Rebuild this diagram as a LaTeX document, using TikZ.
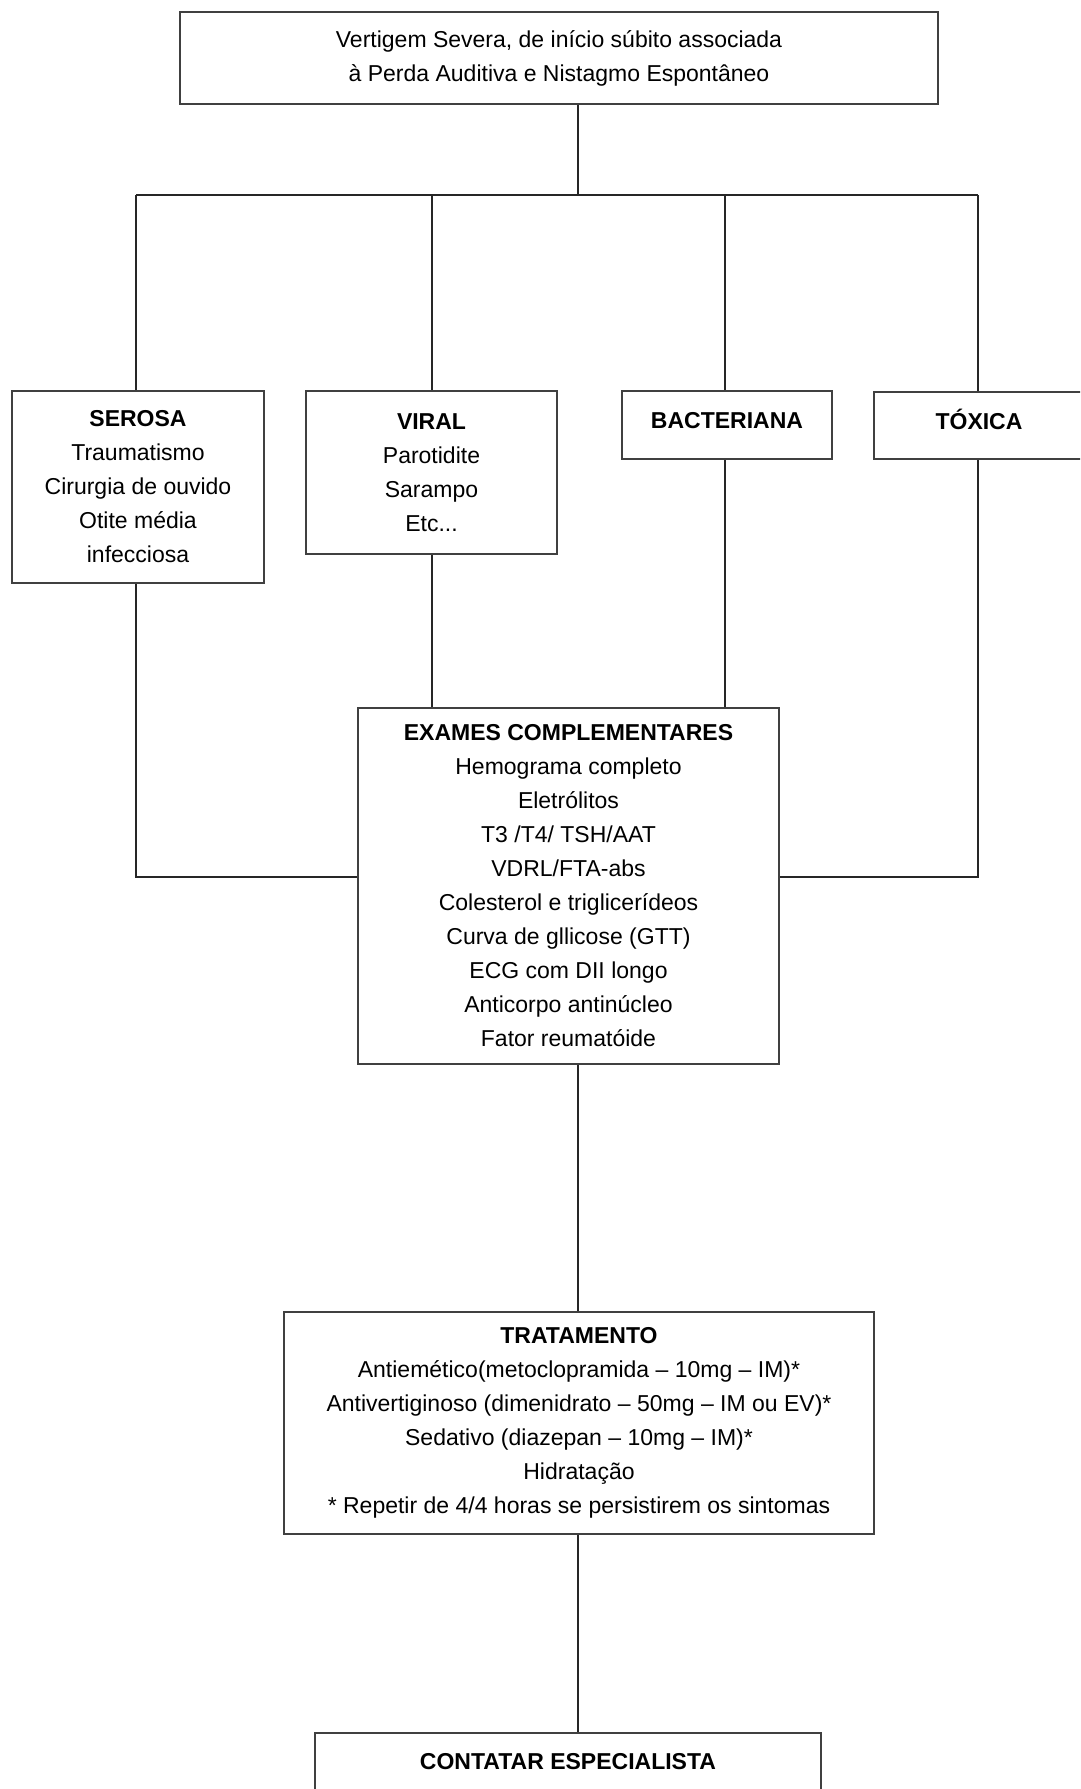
\documentclass[tikz,border=0pt]{standalone}
\usepackage{fontspec}
\setmainfont{Liberation Sans}
\begin{document}
\begin{tikzpicture}[x=1pt,y=-1pt,
  box/.style={draw=black!75,line width=2pt,fill=white,rectangle,anchor=north west,
    inner sep=0pt,align=center,font=\fontsize{23}{34}\selectfont},
  conn/.style={draw=black!85,line width=1.6pt}]
\useasboundingbox (0,0) rectangle (1080,1789);
\clip (0,0) rectangle (1080,1789);
\fill[white] (0,0) rectangle (1080,1789);

% boxes
\node[box,minimum width=758pt,minimum height=92pt] (top) at (179,11)
  {Vertigem Severa, de início súbito associada\\à Perda Auditiva e Nistagmo Espontâneo};
\node[box,minimum width=252pt,minimum height=192pt] (serosa) at (11,390)
  {\textbf{SEROSA}\\Traumatismo\\Cirurgia de ouvido\\Otite média\\infecciosa};
\node[box,minimum width=251pt,minimum height=163pt] (viral) at (305,390)
  {\textbf{VIRAL}\\Parotidite\\Sarampo\\Etc...};
\node[box,minimum width=210pt,minimum height=68pt,text height=17pt,text depth=10pt] (bact) at (621,390)
  {\textbf{BACTERIANA}};
\node[box,minimum width=210pt,minimum height=67pt,text height=17pt,text depth=10pt] (toxica) at (873,391)
  {\textbf{TÓXICA}};
\node[box,minimum width=421pt,minimum height=356pt] (exames) at (357,707)
  {\textbf{EXAMES COMPLEMENTARES}\\Hemograma completo\\Eletrólitos\\T3 /T4/ TSH/AAT\\VDRL/FTA-abs\\Colesterol e triglicerídeos\\Curva de gllicose (GTT)\\ECG com DII longo\\Anticorpo antinúcleo\\Fator reumatóide};
\node[box,minimum width=590pt,minimum height=222pt] (trat) at (283,1311)
  {\textbf{TRATAMENTO}\\Antiemético(metoclopramida – 10mg – IM)*\\Antivertiginoso (dimenidrato – 50mg – IM ou EV)*\\Sedativo (diazepan – 10mg – IM)*\\Hidratação\\* Repetir de 4/4 horas se persistirem os sintomas};
\node[box,anchor=north,minimum width=506pt,inner ysep=19pt,text height=17pt,text depth=80pt] (contatar) at (568,1732)
  {\textbf{CONTATAR ESPECIALISTA}};

% connector coordinates
\coordinate (mid) at (578,195);
\coordinate (busL) at (136,195);
\coordinate (busV) at (432,195);
\coordinate (busB) at (725,195);
\coordinate (busR) at (978,195);
\coordinate (jL) at (136,877);
\coordinate (jR) at (978,877);
\coordinate (cx) at (578,0);

\draw[conn] (top.south -| mid) -- (mid);
\draw[conn] (busL) -- (busR);
\draw[conn] (busL) -- (serosa.north -| busL);
\draw[conn] (busV) -- (viral.north -| busV);
\draw[conn] (busB) -- (bact.north -| busB);
\draw[conn] (busR) -- (toxica.north -| busR);

\draw[conn] (serosa.south -| jL) -- (jL) -- (exames.west |- jL);
\draw[conn] (toxica.south -| jR) -- (jR) -- (exames.east |- jR);
\draw[conn] (viral.south -| busV) -- (exames.north -| busV);
\draw[conn] (bact.south -| busB) -- (exames.north -| busB);

\draw[conn] (exames.south -| cx) -- (trat.north -| cx);
\draw[conn] (trat.south -| cx) -- (contatar.north -| cx);
\end{tikzpicture}
\end{document}
